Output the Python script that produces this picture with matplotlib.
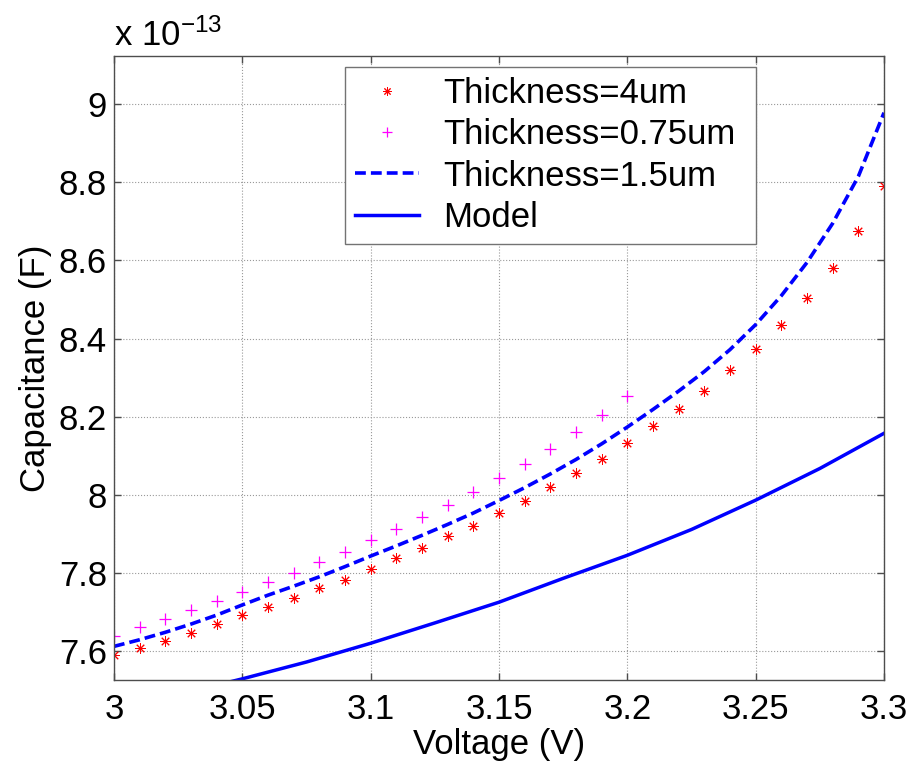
import numpy as np
import matplotlib
matplotlib.use('Agg')
import matplotlib.pyplot as plt

plt.rcParams['font.family'] = ['Liberation Sans', 'DejaVu Sans']
plt.rcParams['mathtext.fontset'] = 'custom'
plt.rcParams['mathtext.rm'] = 'Liberation Sans'
plt.rcParams['mathtext.it'] = 'Liberation Sans:italic'

# capacitance values in units of 1e-13 F
volt_4um = np.round(np.arange(3.00, 3.301, 0.01), 2)
cap_4um = [7.592, 7.609, 7.628, 7.648, 7.670, 7.692, 7.715, 7.738, 7.762, 7.784,
           7.811, 7.838, 7.865, 7.895, 7.922, 7.955, 7.986, 8.020, 8.056, 8.093,
           8.132, 8.176, 8.219, 8.267, 8.319, 8.374, 8.434, 8.504, 8.581, 8.675,
           8.790]

volt_075um = np.round(np.arange(3.00, 3.201, 0.01), 2)
cap_075um = [7.640, 7.662, 7.684, 7.706, 7.729, 7.753, 7.777, 7.801, 7.829, 7.855,
             7.884, 7.912, 7.944, 7.975, 8.009, 8.044, 8.080, 8.118, 8.161, 8.206,
             8.254]

volt_15um = np.round(np.arange(3.00, 3.301, 0.01), 2)
cap_15um = [7.613, 7.630, 7.649, 7.670, 7.693, 7.719, 7.744, 7.767, 7.791, 7.817,
            7.844, 7.870, 7.897, 7.925, 7.954, 7.986, 8.019, 8.054, 8.091, 8.131,
            8.174, 8.219, 8.266, 8.316, 8.372, 8.436, 8.510, 8.595, 8.695, 8.815,
            8.978]

volt_model = np.round(np.arange(3.00, 3.3001, 0.025), 3)
cap_model = [7.450, 7.490, 7.530, 7.573, 7.621, 7.673, 7.726, 7.787, 7.846, 7.912,
             7.987, 8.068, 8.158]

x_ticks = [3, 3.05, 3.1, 3.15, 3.2, 3.25, 3.3]
x_tick_labels = ['3', '3.05', '3.1', '3.15', '3.2', '3.25', '3.3']
y_ticks = [7.6, 7.8, 8.0, 8.2, 8.4, 8.6, 8.8, 9.0]
y_tick_labels = ['7.6', '7.8', '8', '8.2', '8.4', '8.6', '8.8', '9']

fig = plt.figure(figsize=(9.22, 7.65), dpi=100)
ax = fig.add_axes([0.1236, 0.1111, 0.8352, 0.8157])

# MATLAB-style asterisk marker: 8 thin arms
star = (8, 2, 0)
ax.plot(volt_4um, cap_4um, linestyle='none', marker=star, color='red',
        markersize=7.5, markeredgewidth=0.7, label='Thickness=4um')
ax.plot(volt_075um, cap_075um, linestyle='none', marker='+', color=(1, 0, 1),
        markersize=9, markeredgewidth=0.9, label='Thickness=0.75um')
ax.plot(volt_15um, cap_15um, linestyle=(0, (3.0, 1.4)), color='blue',
        linewidth=2.6, label='Thickness=1.5um')
ax.plot(volt_model, cap_model, linestyle='-', color='blue',
        linewidth=2.5, label='Model')

ax.set_xlim(3.0, 3.3)
ax.set_ylim(7.527, 9.123)
ax.set_xticks(x_ticks)
ax.set_xticklabels(x_tick_labels)
ax.set_yticks(y_ticks)
ax.set_yticklabels(y_tick_labels)

ax.grid(True, linestyle=':', color='0.6', linewidth=0.8)
ax.tick_params(direction='in', length=5, width=1, top=True, right=True,
               labelsize=25, color='0.3')
ax.tick_params(axis='x', pad=9)
ax.tick_params(axis='y', pad=5)
for sp in ax.spines.values():
    sp.set_color('0.3')
    sp.set_linewidth(1.0)

ax.set_xlabel('Voltage (V)', fontsize=25, labelpad=2)
ax.set_ylabel('Capacitance (F)', fontsize=25, labelpad=5)

fig.text(0.1236, 0.940, r'x 10$^{-13}$', fontsize=25, ha='left', va='baseline')

# legend box stretched to a fixed width, content kept on the left
leg = ax.legend(loc='upper left', bbox_to_anchor=(0.30, 0.70, 0.534, 0.282),
                mode='expand', fontsize=25,
                frameon=True, fancybox=False, edgecolor='0.45', framealpha=1,
                handlelength=1.85, handletextpad=0.7, labelspacing=0.24,
                borderpad=0.28, borderaxespad=0, markerscale=0.8)
leg.get_frame().set_linewidth(1.0)

fig.savefig('out.png', dpi=100)
